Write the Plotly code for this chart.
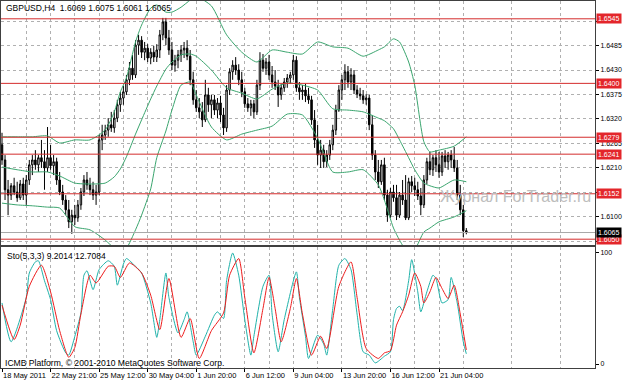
import plotly.graph_objects as go
from plotly.subplots import make_subplots

# ---------------- data ----------------
bar_index = list(range(154))
opens = [1.6262,1.6228,1.6161,1.6149,1.6170,1.6156,1.6143,1.6174,1.6149,1.6183,
         1.6217,1.6228,1.6217,1.6233,1.6224,1.6210,1.6233,1.6215,1.6224,1.6183,
         1.6156,1.6138,1.6116,1.6089,1.6104,1.6098,1.6127,1.6156,1.6183,1.6172,
         1.6161,1.6149,1.6156,1.6273,1.6284,1.6295,1.6307,1.6300,1.6322,1.6352,
         1.6367,1.6381,1.6408,1.6434,1.6419,1.6486,1.6497,1.6470,1.6479,1.6457,
         1.6470,1.6459,1.6475,1.6509,1.6538,1.6502,1.6475,1.6441,1.6452,1.6464,
         1.6475,1.6479,1.6461,1.6408,1.6363,1.6345,1.6336,1.6318,1.6374,1.6352,
         1.6363,1.6340,1.6356,1.6329,1.6300,1.6385,1.6426,1.6441,1.6430,1.6408,
         1.6381,1.6354,1.6345,1.6354,1.6336,1.6396,1.6452,1.6434,1.6448,1.6419,
         1.6403,1.6394,1.6374,1.6390,1.6403,1.6412,1.6419,1.6452,1.6390,1.6381,
         1.6385,1.6372,1.6363,1.6318,1.6273,1.6239,1.6250,1.6224,1.6239,1.6262,
         1.6295,1.6340,1.6385,1.6408,1.6426,1.6403,1.6419,1.6385,1.6376,1.6372,
         1.6363,1.6367,1.6307,1.6239,1.6201,1.6179,1.6217,1.6149,1.6104,1.6156,
         1.6143,1.6104,1.6149,1.6138,1.6098,1.6179,1.6170,1.6161,1.6147,1.6127,
         1.6183,1.6224,1.6206,1.6233,1.6217,1.6201,1.6237,1.6224,1.6239,1.6228,
         1.6210,1.6149,1.6116,1.6069]
highs = [1.6289,1.6239,1.6183,1.6176,1.6188,1.6179,1.6183,1.6188,1.6194,1.6228,
         1.6239,1.6250,1.6239,1.6273,1.6250,1.6302,1.6262,1.6239,1.6233,1.6201,
         1.6172,1.6149,1.6138,1.6116,1.6127,1.6138,1.6165,1.6194,1.6201,1.6188,
         1.6179,1.6172,1.6284,1.6307,1.6307,1.6322,1.6336,1.6340,1.6363,1.6381,
         1.6394,1.6419,1.6448,1.6464,1.6497,1.6509,1.6506,1.6493,1.6488,1.6479,
         1.6484,1.6488,1.6520,1.6547,1.6547,1.6520,1.6493,1.6464,1.6475,1.6486,
         1.6493,1.6497,1.6475,1.6426,1.6385,1.6367,1.6358,1.6408,1.6390,1.6374,
         1.6374,1.6367,1.6372,1.6345,1.6396,1.6434,1.6452,1.6459,1.6443,1.6426,
         1.6390,1.6367,1.6363,1.6363,1.6408,1.6470,1.6466,1.6457,1.6464,1.6439,
         1.6430,1.6408,1.6399,1.6412,1.6421,1.6426,1.6464,1.6461,1.6403,1.6396,
         1.6399,1.6390,1.6372,1.6340,1.6307,1.6273,1.6262,1.6250,1.6273,1.6307,
         1.6352,1.6396,1.6419,1.6443,1.6439,1.6434,1.6430,1.6396,1.6390,1.6385,
         1.6376,1.6374,1.6329,1.6250,1.6228,1.6228,1.6233,1.6161,1.6165,1.6172,
         1.6172,1.6156,1.6183,1.6194,1.6188,1.6192,1.6188,1.6179,1.6165,1.6194,
         1.6233,1.6246,1.6239,1.6250,1.6246,1.6246,1.6250,1.6246,1.6250,1.6257,
         1.6228,1.6172,1.6127,1.6075]
lows = [1.6217,1.6138,1.6104,1.6138,1.6149,1.6134,1.6138,1.6138,1.6127,1.6172,
        1.6194,1.6206,1.6201,1.6210,1.6161,1.6201,1.6206,1.6194,1.6172,1.6149,
        1.6127,1.6104,1.6075,1.6062,1.6082,1.6089,1.6116,1.6147,1.6161,1.6149,
        1.6138,1.6127,1.6149,1.6250,1.6273,1.6280,1.6291,1.6289,1.6313,1.6336,
        1.6352,1.6374,1.6396,1.6408,1.6412,1.6464,1.6457,1.6452,1.6448,1.6443,
        1.6448,1.6448,1.6457,1.6497,1.6486,1.6464,1.6430,1.6426,1.6434,1.6448,
        1.6457,1.6452,1.6396,1.6352,1.6336,1.6322,1.6302,1.6313,1.6336,1.6322,
        1.6329,1.6322,1.6313,1.6284,1.6291,1.6374,1.6408,1.6419,1.6396,1.6369,
        1.6345,1.6336,1.6327,1.6322,1.6329,1.6385,1.6426,1.6419,1.6408,1.6390,
        1.6385,1.6347,1.6363,1.6381,1.6390,1.6399,1.6408,1.6381,1.6363,1.6363,
        1.6358,1.6354,1.6307,1.6255,1.6217,1.6210,1.6210,1.6212,1.6228,1.6250,
        1.6284,1.6336,1.6363,1.6385,1.6390,1.6385,1.6376,1.6367,1.6363,1.6354,
        1.6352,1.6295,1.6228,1.6183,1.6165,1.6172,1.6138,1.6089,1.6098,1.6134,
        1.6093,1.6098,1.6127,1.6093,1.6093,1.6156,1.6147,1.6138,1.6104,1.6120,
        1.6174,1.6194,1.6192,1.6201,1.6188,1.6192,1.6210,1.6206,1.6210,1.6201,
        1.6138,1.6104,1.6055,1.6061]
closes = [1.6228,1.6161,1.6149,1.6170,1.6156,1.6143,1.6174,1.6149,1.6183,1.6217,
          1.6228,1.6217,1.6233,1.6224,1.6210,1.6233,1.6215,1.6224,1.6183,1.6156,
          1.6138,1.6116,1.6089,1.6104,1.6098,1.6127,1.6156,1.6183,1.6172,1.6161,
          1.6149,1.6156,1.6273,1.6284,1.6295,1.6307,1.6300,1.6322,1.6352,1.6367,
          1.6381,1.6408,1.6434,1.6419,1.6486,1.6497,1.6470,1.6479,1.6457,1.6470,
          1.6459,1.6475,1.6509,1.6538,1.6502,1.6475,1.6441,1.6452,1.6464,1.6475,
          1.6479,1.6461,1.6408,1.6363,1.6345,1.6336,1.6318,1.6374,1.6352,1.6363,
          1.6340,1.6356,1.6329,1.6300,1.6385,1.6426,1.6441,1.6430,1.6408,1.6381,
          1.6354,1.6345,1.6354,1.6336,1.6396,1.6452,1.6434,1.6448,1.6419,1.6403,
          1.6394,1.6374,1.6390,1.6403,1.6412,1.6419,1.6452,1.6390,1.6381,1.6385,
          1.6372,1.6363,1.6318,1.6273,1.6239,1.6250,1.6224,1.6239,1.6262,1.6295,
          1.6340,1.6385,1.6408,1.6426,1.6403,1.6419,1.6385,1.6376,1.6372,1.6363,
          1.6367,1.6307,1.6239,1.6201,1.6179,1.6217,1.6149,1.6104,1.6156,1.6143,
          1.6104,1.6149,1.6138,1.6098,1.6179,1.6170,1.6161,1.6147,1.6127,1.6183,
          1.6224,1.6206,1.6233,1.6217,1.6201,1.6237,1.6224,1.6239,1.6228,1.6210,
          1.6149,1.6116,1.6069,1.6065]

# Bollinger bands (read at sampled bars)
band_idx = [0,5,10,15,19,24,29,34,37,39,41,44,46,49,51,54,56,59,62,64,69,74,79,84,89,
            94,99,104,109,114,119,124,126,129,131,134,136,139,141,144,149,153]
band_upper = [1.6280,1.6280,1.6280,1.6282,1.6266,1.6273,1.6273,1.6295,1.6336,1.6381,
              1.6412,1.6493,1.6531,1.6569,1.6576,1.6560,1.6560,1.6571,1.6587,1.6595,
              1.6574,1.6509,1.6470,1.6448,1.6475,1.6470,1.6466,1.6493,1.6482,1.6479,
              1.6461,1.6475,1.6482,1.6500,1.6493,1.6448,1.6396,1.6269,1.6246,1.6250,
              1.6259,1.6280]
band_middle = [1.6212,1.6206,1.6201,1.6201,1.6192,1.6176,1.6174,1.6176,1.6190,1.6208,
               1.6235,1.6286,1.6318,1.6365,1.6394,1.6432,1.6448,1.6464,1.6466,1.6461,
               1.6430,1.6390,1.6378,1.6365,1.6387,1.6401,1.6396,1.6385,1.6343,1.6340,
               1.6336,1.6322,1.6316,1.6298,1.6273,1.6233,1.6206,1.6176,1.6170,1.6165,
               1.6183,1.6179]
band_lower = [1.6131,1.6127,1.6125,1.6122,1.6120,1.6078,1.6071,1.6048,1.6030,1.6026,
              1.6030,1.6071,1.6104,1.6163,1.6233,1.6293,1.6340,1.6396,1.6403,1.6374,
              1.6302,1.6273,1.6286,1.6295,1.6304,1.6331,1.6329,1.6277,1.6201,1.6201,
              1.6206,1.6172,1.6138,1.6075,1.6048,1.6017,1.6026,1.6066,1.6075,1.6089,
              1.6100,1.6114]

# Stochastic (5,3,3)
k_idx = [0,3,8,9,11,12,14,16,18,21,22,24,26,27,28,30,32,35,37,38,40,41,44,46,49,51,52,54,
         55,58,60,61,63,64,67,70,71,73,74,76,78,80,82,83,86,88,89,91,93,97,98,100,101,104,
         106,107,109,111,113,115,117,119,121,123,126,128,129,130,131,132,134,135,137,138,
         140,142,143,145,147,148,150,152,153]
k_val = [55,20,60,82,92,93,75,58,30,10,8,25,46,80,84,67,85,93,88,71,90,95,88,82,55,24,40,82,
         60,28,40,47,20,8,25,44,47,41,75,100,80,40,8,25,70,80,45,11,40,83,60,25,5,26,
         18,8,50,89,95,85,45,11,8,1,7,11,40,50,52,48,75,94,65,47,
         65,80,77,55,58,78,55,20,9.2]
d_idx = [0,4,6,9,13,16,19,22,24,26,29,31,35,37,39,42,46,49,52,55,59,62,65,69,73,75,78,80,83,
         86,88,90,92,95,97,99,102,105,107,111,115,117,120,124,126,128,130,132,134,136,138,
         139,141,143,145,147,149,151,153]
d_val = [53,22,35,70,89,65,30,6,15,45,80,73,88,88,78,91,82,62,31,77,24,41,5,30,46,80,95,60,10,
         50,78,50,20,50,77,45,8,25,14,70,92,60,14,5,10,12,35,47,62,82,70,
         55,65,78,68,59,71,45,12.7]

# axis labels
time_tick_idx = [0,16,32,48,64,80,96,112,128,144]
time_tick_text = ["18 May 2011","22 May 21:00","25 May 12:00","30 May 04:00","1 Jun 20:00",
                  "6 Jun 12:00","9 Jun 04:00","13 Jun 20:00","16 Jun 12:00","21 Jun 04:00"]
grid_minor_idx = [8,24,40,56,72,88,104,120,136,152,168,184]
price_ticks = [1.6540,1.6485,1.6430,1.6375,1.6320,1.6265,1.6210,1.6155,1.6100,1.6045]
price_tick_text = ["","1.6485","1.6430","1.6375","1.6320","1.6265","1.6210","","1.6100",""]
level_prices = [1.6545,1.6400,1.6279,1.6241,1.6152,1.6050]
bid_price = 1.6065

# ---------------- figure ----------------
FONT = "Liberation Sans"
GRID = "#b0b0b0"
FRAME = "#404040"
BAND = "#3aa56e"

fig = make_subplots(rows=2, cols=1, shared_xaxes=True)

fig.add_trace(go.Candlestick(
    x=bar_index, open=opens, high=highs, low=lows, close=closes,
    increasing=dict(line=dict(color="black", width=1), fillcolor="white"),
    decreasing=dict(line=dict(color="black", width=1), fillcolor="black"),
    whiskerwidth=0, showlegend=False, hoverinfo="skip"), row=1, col=1)

for band in (band_upper, band_middle, band_lower):
    fig.add_trace(go.Scatter(x=band_idx, y=band, mode="lines",
                             line=dict(color=BAND, width=1, shape="spline", smoothing=0.6),
                             showlegend=False, hoverinfo="skip"), row=1, col=1)

fig.add_trace(go.Scatter(x=k_idx, y=k_val, mode="lines",
                         line=dict(color="#20b2aa", width=1, shape="spline", smoothing=0.6),
                         showlegend=False, hoverinfo="skip"), row=2, col=1)
fig.add_trace(go.Scatter(x=d_idx, y=d_val, mode="lines",
                         line=dict(color="#ee1c1c", width=1, shape="spline", smoothing=0.6),
                         showlegend=False, hoverinfo="skip"), row=2, col=1)

# horizontal level lines
for p in level_prices:
    fig.add_shape(type="line", xref="x domain", x0=0, x1=1, yref="y", y0=p, y1=p,
                  line=dict(color="#d42c2c", width=1))
fig.add_shape(type="line", xref="x domain", x0=0, x1=1, yref="y", y0=bid_price, y1=bid_price,
              line=dict(color="#a8a8a8", width=1))

fig.update_layout(
    width=623, height=382,
    margin=dict(l=1, r=28, t=1, b=14, autoexpand=False),
    paper_bgcolor="white", plot_bgcolor="white",
    showlegend=False, hovermode=False,
    font=dict(family=FONT, size=7, color="black"),
)

fig.update_xaxes(
    range=[-0.33, 195.4], tickmode="array", tickvals=time_tick_idx, ticktext=time_tick_text,
    tickangle=0, automargin=False,
    showgrid=True, gridcolor=GRID, griddash="dot", gridwidth=1,
    minor=dict(tickmode="array", tickvals=grid_minor_idx, showgrid=True,
               gridcolor=GRID, griddash="dot", gridwidth=1, ticks=""),
    showline=True, mirror=True, linecolor=FRAME, linewidth=1, zeroline=False,
    rangeslider=dict(visible=False),
)
fig.update_xaxes(showticklabels=False, ticks="", row=1, col=1)
fig.update_xaxes(ticks="outside", ticklen=3, tickcolor="black",
                 ticklabelposition="outside right",
                 tickfont=dict(family=FONT, size=7.5, color="black"), row=2, col=1)

fig.update_yaxes(
    row=1, col=1, domain=[0.3352, 1.0], range=[1.6037, 1.6585], side="right",
    tickmode="array", tickvals=price_ticks, ticktext=price_tick_text, automargin=False,
    ticks="outside", ticklen=3, tickcolor="black",
    tickfont=dict(family=FONT, size=7, color="black"),
    showgrid=True, gridcolor=GRID, griddash="dot", gridwidth=1,
    showline=True, mirror=True, linecolor=FRAME, linewidth=1, zeroline=False,
)
fig.update_yaxes(
    row=2, col=1, domain=[0.0, 0.3297], range=[-3.6, 105.4], side="right",
    tickmode="array", tickvals=[0, 100], ticktext=["0", "100"], automargin=False,
    ticks="outside", ticklen=3, tickcolor="black",
    tickfont=dict(family=FONT, size=7, color="black"),
    showgrid=False, showline=True, mirror=True, linecolor=FRAME, linewidth=1, zeroline=False,
)

# price labels on the right
for p in level_prices:
    fig.add_annotation(xref="paper", x=1.0, xanchor="left", xshift=1,
                       yref="y", y=p, yanchor="middle", text=f"{p:.4f}",
                       showarrow=False, bgcolor="#e3262b", borderpad=1,
                       font=dict(family=FONT, size=7, color="white"))
fig.add_annotation(xref="paper", x=1.0, xanchor="left", xshift=1,
                   yref="y", y=bid_price, yanchor="middle", text=f"{bid_price:.4f}",
                   showarrow=False, bgcolor="black", borderpad=1,
                   font=dict(family=FONT, size=7, color="white"))

# texts
fig.add_annotation(xref="paper", x=0.005, xanchor="left", yref="paper", y=0.981, yanchor="middle",
                   text="GBPUSD,H4  1.6069 1.6075 1.6061 1.6065", showarrow=False,
                   font=dict(family=FONT, size=8.5, color="black"))
fig.add_annotation(xref="paper", x=0.007, xanchor="left", yref="paper", y=0.305, yanchor="middle",
                   text="Sto(5,3,3) 9.2014 12.7084", showarrow=False,
                   font=dict(family=FONT, size=8.5, color="black"))
fig.add_annotation(xref="paper", x=0.004, xanchor="left", yref="paper", y=0.0136, yanchor="middle",
                   text="ICMB Platform, © 2001-2010 MetaQuotes Software Corp.", showarrow=False,
                   font=dict(family=FONT, size=8.6, color="black"))
fig.add_annotation(xref="paper", x=0.997, xanchor="right", yref="y", y=1.6145, yanchor="middle",
                   text="Журнал ForTrader.ru", showarrow=False,
                   font=dict(family=FONT, size=16, color="#bdbdbd"))

fig.write_html("out.html")
